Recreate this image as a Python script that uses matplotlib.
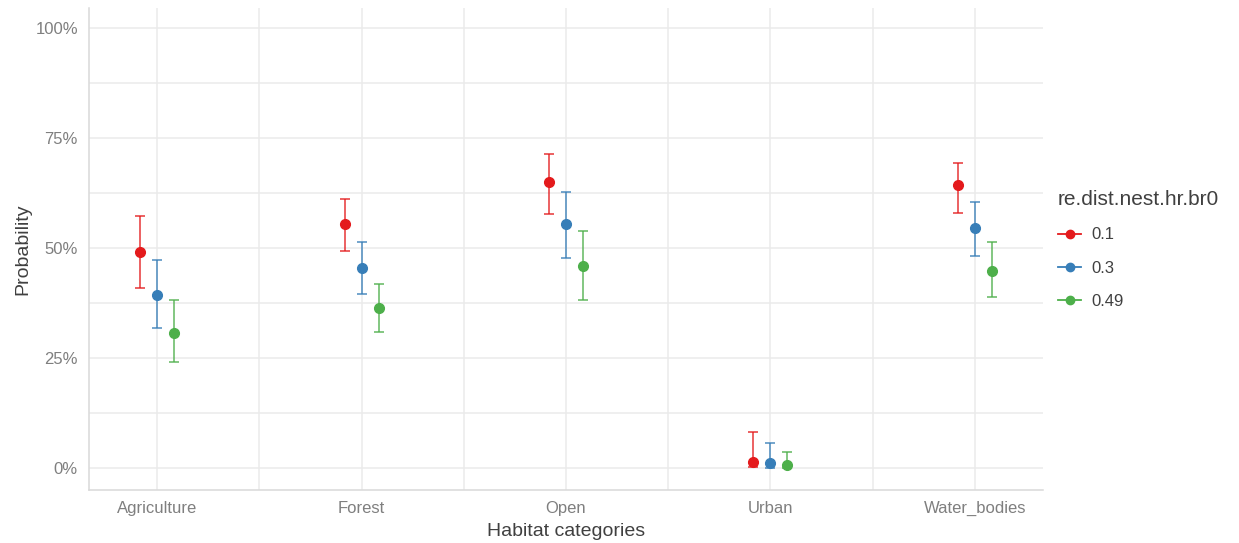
import numpy as np
import matplotlib.pyplot as plt
from matplotlib.ticker import FixedLocator

plt.rcParams['font.family'] = ['Liberation Sans', 'DejaVu Sans']

categories = ['Agriculture', 'Forest', 'Open', 'Urban', 'Water_bodies']
groups = ['0.1', '0.3', '0.49']
colors = ['#E41A1C', '#377EB8', '#4DAF4A']

# predicted probability, lower and upper CI per group
pred = {
    '0.1':  [0.491, 0.554, 0.650, 0.013, 0.642],
    '0.3':  [0.392, 0.454, 0.554, 0.011, 0.545],
    '0.49': [0.307, 0.364, 0.460, 0.006, 0.448],
}
low = {
    '0.1':  [0.408, 0.494, 0.576, 0.002, 0.579],
    '0.3':  [0.318, 0.395, 0.476, 0.001, 0.482],
    '0.49': [0.240, 0.308, 0.382, 0.001, 0.389],
}
high = {
    '0.1':  [0.573, 0.611, 0.714, 0.081, 0.693],
    '0.3':  [0.473, 0.514, 0.627, 0.056, 0.604],
    '0.49': [0.382, 0.419, 0.539, 0.037, 0.513],
}

fig = plt.figure(figsize=(12.39, 5.43), dpi=100)
ax = fig.add_axes([89/1239, 1 - 490/543, (1043 - 89)/1239, (490 - 8)/543])

x = np.arange(1, len(categories) + 1)
offsets = [-0.083, 0.0, 0.083]
for g, c, off in zip(groups, colors, offsets):
    y = np.array(pred[g])
    lo = np.array(low[g])
    hi = np.array(high[g])
    ax.errorbar(x + off, y, yerr=[y - lo, hi - y], fmt='none', ecolor=c,
                alpha=0.75, elinewidth=1.3, capsize=3.5, capthick=1.3, zorder=3)
    ax.plot(x + off, y, 'o', color=c, markersize=7, zorder=4, label=g)

ax.set_xlim(0.667, 5.333)
ax.set_ylim(-0.05, 1.045)
ax.set_xticks(x)
ax.set_xticklabels(categories)
ax.xaxis.set_minor_locator(FixedLocator(x[:-1] + 0.5))
yt = [0, 0.25, 0.5, 0.75, 1.0]
ax.set_yticks(yt)
ax.set_yticklabels(['0%', '25%', '50%', '75%', '100%'])
ax.yaxis.set_minor_locator(FixedLocator([0.125, 0.375, 0.625, 0.875]))

ax.grid(True, which='both', color='#EBEBEB', linewidth=1.1, zorder=0)
ax.set_axisbelow(True)
ax.tick_params(which='both', length=0)
ax.tick_params(axis='both', labelsize=12, colors='#7F7F7F', pad=8)
for s in ['top', 'right']:
    ax.spines[s].set_visible(False)
for s in ['left', 'bottom']:
    ax.spines[s].set_color('#D9D9D9')
    ax.spines[s].set_linewidth(1.1)

ax.set_xlabel('Habitat categories', fontsize=14, color='#404040', labelpad=5)
ax.set_ylabel('Probability', fontsize=14, color='#404040', labelpad=3)

handles = [plt.Line2D([], [], color=c, marker='o', markersize=6, linewidth=1.3)
           for c in colors]
leg = fig.legend(handles, groups, title='re.dist.nest.hr.br0', loc='upper left',
                 bbox_to_anchor=(1043/1239, 1 - 175/543), frameon=False,
                 fontsize=12, title_fontsize=15, handlelength=1.4,
                 handletextpad=0.6, labelspacing=1.1, alignment='left')
for t in leg.get_texts():
    t.set_color('#404040')
leg.get_title().set_color('#404040')

fig.savefig('out.png', dpi=100)
